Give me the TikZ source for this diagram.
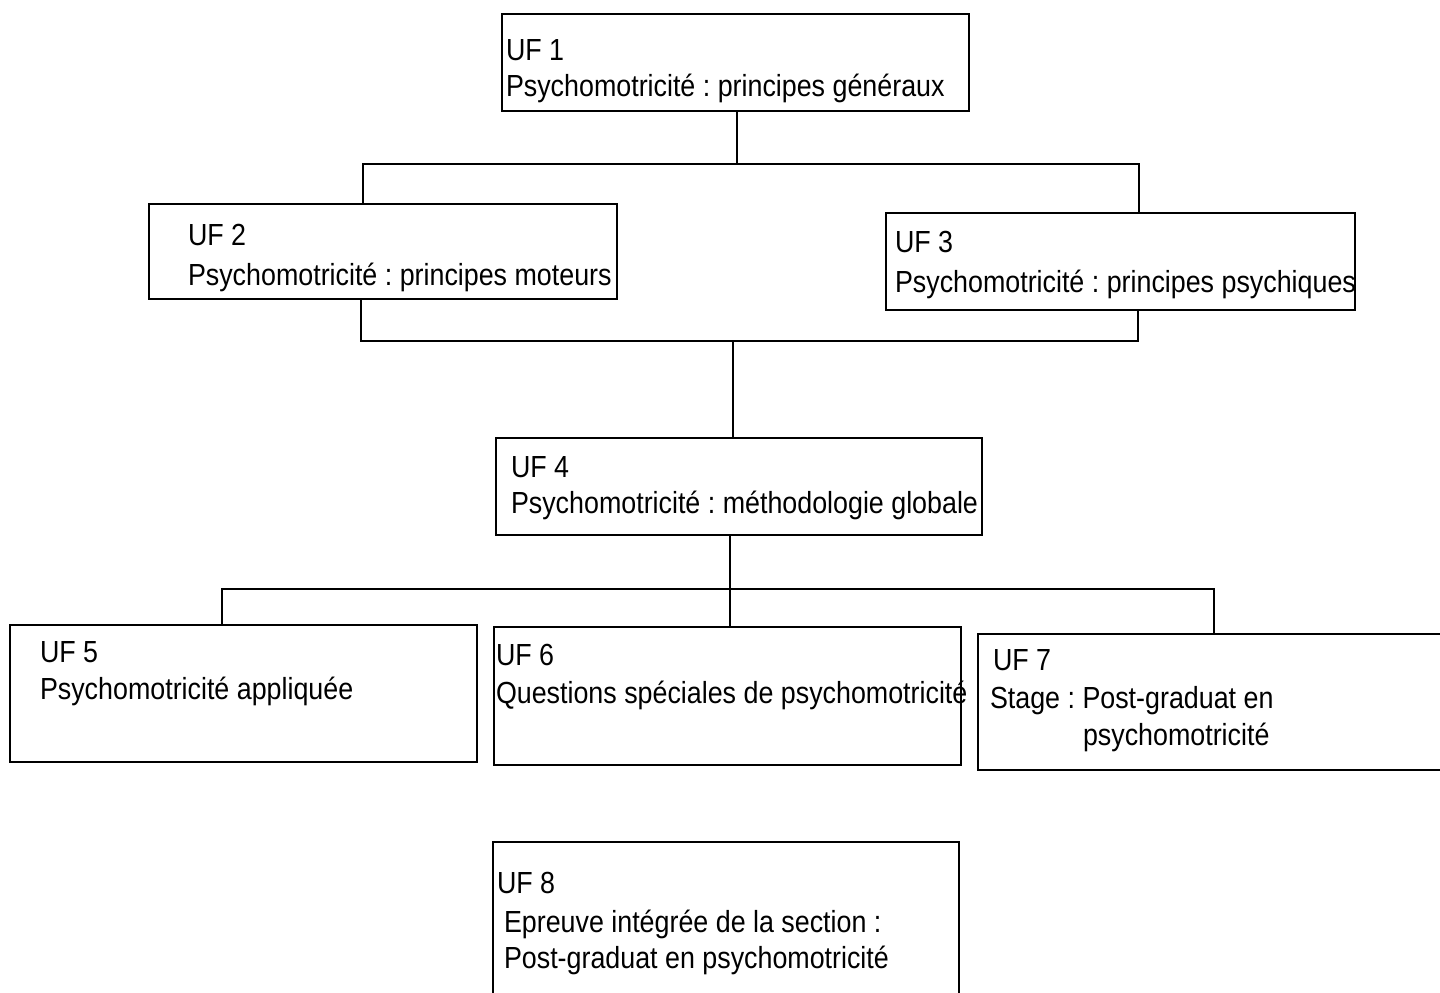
\documentclass[tikz,border=0pt]{standalone}
\usepackage{fontspec}
\setmainfont[FakeStretch=0.88]{Liberation Sans}
\begin{document}
\frenchspacing
\begin{tikzpicture}[x=1pt,y=-1pt,
  ufbox/.style={draw=black, line width=1.7pt, rectangle, inner sep=0pt, outer sep=0pt, anchor=north west},
  txt/.style={anchor=base west, inner sep=0pt, outer sep=0pt, font=\fontsize{30.5}{36}\selectfont},
  conn/.style={draw=black, line width=1.7pt}]
\useasboundingbox (0,0) rectangle (1440,993);
% boxes
\node[ufbox, minimum width=467pt, minimum height=97pt] (uf1) at (502,14) {};
\node[ufbox, minimum width=468pt, minimum height=95pt] (uf2) at (149,204) {};
\node[ufbox, minimum width=469pt, minimum height=97pt] (uf3) at (886,213) {};
\node[ufbox, minimum width=486pt, minimum height=97pt] (uf4) at (496,438) {};
\node[ufbox, minimum width=467pt, minimum height=137pt] (uf5) at (10,625) {};
\node[ufbox, minimum width=467pt, minimum height=138pt] (uf6) at (494,627) {};
\node[ufbox, minimum width=470pt, minimum height=136pt] (uf7) at (978,634) {};
\node[ufbox, minimum width=466pt, minimum height=165pt] (uf8) at (493,842) {};
% texts
\node[txt] (t1a) at (506,60) {UF 1};
\node[txt] (t1b) at (506,96) {Psychomotricité : principes généraux};
\node[txt] (t2a) at (188,245) {UF 2};
\node[txt] (t2b) at (188,285) {Psychomotricité : principes moteurs};
\node[txt] (t3a) at (895,252) {UF 3};
\node[txt] (t3b) at (895,292) {Psychomotricité : principes psychiques};
\node[txt] (t4a) at (511,477) {UF 4};
\node[txt] (t4b) at (511,513) {Psychomotricité : méthodologie globale};
\node[txt] (t5a) at (40,662) {UF 5};
\node[txt] (t5b) at (40,699) {Psychomotricité appliquée};
\node[txt] (t6a) at (496,665) {UF 6};
\node[txt] (t6b) at (496,703) {Questions spéciales de psychomotricité};
\node[txt] (t7a) at (993,670) {UF 7};
\node[txt] (t7b) at (990,708) {Stage : Post-graduat en};
\node[txt] (t7c) at (1083,745) {psychomotricité};
\node[txt] (t8a) at (497,893) {UF 8};
\node[txt] (t8b) at (504,932) {Epreuve intégrée de la section :};
\node[txt] (t8c) at (504,968) {Post-graduat en psychomotricité};
% bus coordinates
\coordinate (b1L) at (363,164);
\coordinate (b1R) at (1139,164);
\coordinate (b1M) at (737,164);
\coordinate (b2L) at (361,341);
\coordinate (b2R) at (1138,341);
\coordinate (b2M) at (733,341);
\coordinate (b3L) at (222,589);
\coordinate (b3R) at (1214,589);
\coordinate (b3M) at (730,589);
% connectors
\draw[conn] (uf1.south -| b1M) -- (b1M);
\draw[conn] (uf2.north -| b1L) -- (b1L) -- (b1R) -- (uf3.north -| b1R);
\draw[conn] (uf2.south -| b2L) -- (b2L) -- (b2R) -- (uf3.south -| b2R);
\draw[conn] (b2M) -- (uf4.north -| b2M);
\draw[conn] (uf4.south -| b3M) -- (uf6.north -| b3M);
\draw[conn] (uf5.north -| b3L) -- (b3L) -- (b3R) -- (uf7.north -| b3R);
\end{tikzpicture}
\end{document}
